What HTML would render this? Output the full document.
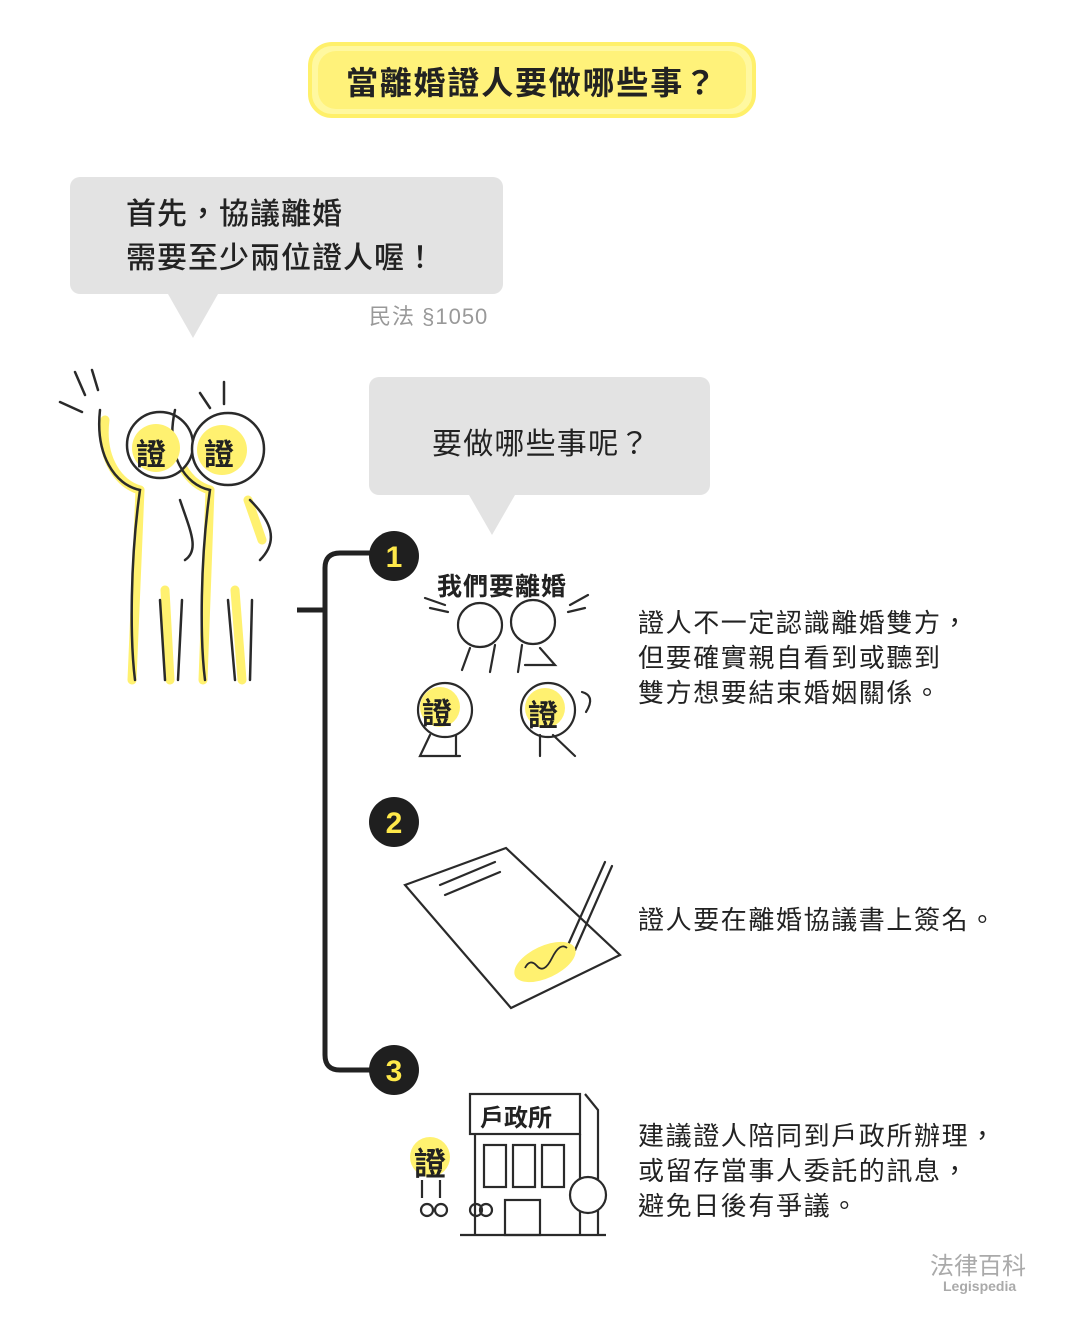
<!DOCTYPE html>
<html><head><meta charset="utf-8"><style>
body{margin:0;background:#fff;}
.w{position:relative;width:1065px;height:1317px;overflow:hidden;font-family:"Liberation Sans","Noto Sans CJK TC",sans-serif;color:#222;}
.t{position:absolute;white-space:nowrap;}
</style></head><body><div class="w">
<svg width="1065" height="1317" style="position:absolute;left:0;top:0">
<rect x="310" y="44" width="444" height="72" rx="22" fill="#fff8a0" stroke="#fff06a" stroke-width="4"/>
<rect x="318" y="51" width="428" height="58" rx="18" fill="#fff27a"/>
<path d="M80 177H493a10 10 0 0 1 10 10V284a10 10 0 0 1-10 10H218L193 338L168 294H80a10 10 0 0 1-10-10V187a10 10 0 0 1 10-10z" fill="#e3e3e3"/>
<path d="M379 377H700a10 10 0 0 1 10 10V485a10 10 0 0 1-10 10H515L492 535L469 495H379a10 10 0 0 1-10-10V387a10 10 0 0 1 10-10z" fill="#e3e3e3"/>
<path d="M372 553H340q-15 0-15 15V1055q0 15 15 15H372" fill="none" stroke="#222" stroke-width="5"/>
<line x1="297" y1="610" x2="325" y2="610" stroke="#222" stroke-width="5"/>
<g fill="#1f1f1f"><circle cx="394" cy="556" r="25"/><circle cx="394" cy="822" r="25"/><circle cx="394" cy="1070" r="25"/></g>
<g font-family="Liberation Sans,sans-serif" font-weight="bold" font-size="30" fill="#ffe94a" text-anchor="middle">
<text x="394" y="567">1</text><text x="394" y="833">2</text><text x="394" y="1081">3</text></g>
<g fill="none" stroke-linecap="round">
<g stroke="#fff170" stroke-width="9">
<path d="M105 420C100 460 120 485 140 490"/><path d="M140 490L132 680"/><path d="M175 420C170 460 190 485 210 490"/><path d="M210 490L203 680"/><path d="M165 590L170 680"/><path d="M235 590L242 680"/><path d="M248 500L262 540"/>
</g>
<g stroke="#2a2a2a" stroke-width="2.5">
<circle cx="160" cy="445" r="33" fill="#fff"/><circle cx="228" cy="449" r="36" fill="#fff"/>
<path d="M100 410C95 455 115 485 140 490C130 560 130 640 135 680"/><path d="M175 410C165 455 185 485 210 490C200 560 200 640 205 680"/>
<path d="M180 500C190 530 200 550 185 560"/><path d="M250 500C270 520 280 540 260 560"/>
<path d="M160 600L165 680"/><path d="M182 600L178 680"/><path d="M228 600L235 680"/><path d="M252 600L250 680"/>
<path d="M75 372L85 395"/><path d="M92 370L98 390"/><path d="M60 402L82 412"/><path d="M200 393L210 408"/><path d="M224 382L224 404"/>
</g></g>
<circle cx="156" cy="448" r="24" fill="#fff170"/><circle cx="222" cy="450" r="25" fill="#fff170"/>
<g fill="none" stroke="#2a2a2a" stroke-width="2.2" stroke-linecap="round">
<circle cx="480" cy="625" r="22"/><circle cx="533" cy="622" r="22"/>
<path d="M470 648L462 670M495 645L490 672M522 645L518 672M540 648L555 665L525 665"/>
<circle cx="445" cy="710" r="27"/><circle cx="548" cy="710" r="27"/>
<path d="M430 735L420 756H460M456 735V756M540 735V756M553 735L575 756"/>
<path d="M425 598L445 605M430 608L448 612M570 605L588 595M568 612L585 608"/>
<path d="M582 692q14 4 4 20"/>
</g>
<circle cx="440" cy="707" r="20" fill="#fff170"/><circle cx="545" cy="708" r="20" fill="#fff170"/>
<g fill="none" stroke="#2a2a2a" stroke-width="2.2" stroke-linecap="round">
<path d="M405 885L506 848L620 955L511 1008Z" fill="#fff"/>
<path d="M440 885L495 862M445 895L500 872"/>
<path d="M605 862L568 945"/><path d="M612 866L575 950"/><path d="M568 945L575 950L568 958Z"/>
</g>
<ellipse cx="545" cy="962" rx="33" ry="16" transform="rotate(-25 545 962)" fill="#fff170"/>
<path d="M525 968q5-10 12-2t15-8 15-10" fill="none" stroke="#2a2a2a" stroke-width="1.8"/>
<g fill="none" stroke="#2a2a2a" stroke-width="2.2">
<rect x="470" y="1094" width="110" height="40" fill="#fff"/>
<path d="M475 1134V1235M585 1094L598 1110V1235M580 1134V1235"/>
<rect x="484" y="1145" width="22" height="42"/><rect x="513" y="1145" width="22" height="42"/><rect x="542" y="1145" width="22" height="42"/>
<rect x="505" y="1200" width="35" height="35"/>
<path d="M460 1235H606"/>
<circle cx="588" cy="1195" r="18" fill="#fff"/>
<path d="M422 1180v18M440 1180v18"/>
<circle cx="427" cy="1210" r="6"/><circle cx="441" cy="1210" r="6"/><circle cx="476" cy="1210" r="6"/><circle cx="486" cy="1210" r="6"/>
</g>
<circle cx="430" cy="1157" r="20" fill="#fff170"/>
</svg>
<div class="t" style="left:346px;top:58px;font-size:32px;font-weight:bold;letter-spacing:1.8px">當離婚證人要做哪些事？</div>
<div class="t" style="left:126px;top:193px;font-size:30px;line-height:44px;font-weight:500;letter-spacing:1px">首先，協議離婚<br>需要至少兩位證人喔！</div>
<div class="t" style="left:369px;top:299px;font-size:22px;color:#999;letter-spacing:1px">民法 §1050</div>
<div class="t" style="left:432px;top:419px;font-size:30px;letter-spacing:1.2px">要做哪些事呢？</div>
<div class="t" style="left:136px;top:430px;font-size:30px;font-weight:bold">證</div>
<div class="t" style="left:204px;top:430px;font-size:30px;font-weight:bold">證</div>
<div class="t" style="left:437px;top:567px;font-size:25px;font-weight:bold;letter-spacing:1px">我們要離婚</div>
<div class="t" style="left:422px;top:689px;font-size:30px;font-weight:bold">證</div>
<div class="t" style="left:528px;top:691px;font-size:30px;font-weight:bold">證</div>
<div class="t" style="left:480px;top:1098px;font-size:24px;font-weight:bold">戶政所</div>
<div class="t" style="left:414px;top:1139px;font-size:32px;font-weight:bold">證</div>
<div class="t" style="left:638px;top:606px;font-size:26px;line-height:35px;letter-spacing:1.6px">證人不一定認識離婚雙方，<br>但要確實親自看到或聽到<br>雙方想要結束婚姻關係。</div>
<div class="t" style="left:638px;top:900px;font-size:26px;letter-spacing:1.6px">證人要在離婚協議書上簽名。</div>
<div class="t" style="left:638px;top:1119px;font-size:26px;line-height:35px;letter-spacing:1.6px">建議證人陪同到戶政所辦理，<br>或留存當事人委託的訊息，<br>避免日後有爭議。</div>
<div class="t" style="left:930px;top:1246px;font-size:24px;color:#aaa">法律百科</div>
<div class="t" style="left:943px;top:1278px;font-size:14px;color:#aaa;font-weight:bold">Legispedia</div>
</div></body></html>
